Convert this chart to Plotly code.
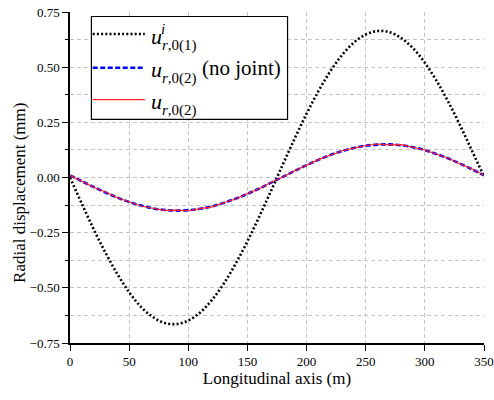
import plotly.graph_objects as go

# Longitudinal positions (m)
x_pos = [0, 10, 20, 30, 40, 50, 60, 70, 80, 90, 100, 110, 120, 130, 140, 150, 160, 170,
         180, 190, 200, 210, 220, 230, 240, 250, 260, 270, 280, 290, 300, 310, 320, 330, 340, 350]

# u^i_{r,0(1)} (mm)
u_r01_i = [0.0, -0.119, -0.234, -0.341, -0.437, -0.520, -0.586, -0.632, -0.659, -0.664,
           -0.648, -0.612, -0.555, -0.481, -0.391, -0.289, -0.177, -0.060, 0.060, 0.177,
           0.289, 0.391, 0.481, 0.555, 0.612, 0.648, 0.664, 0.659, 0.632, 0.586, 0.520,
           0.437, 0.341, 0.234, 0.119, 0.005]

# u_{r,0(2)} (no joint) (mm)
u_r02_nojoint = [0.010, -0.017, -0.043, -0.068, -0.091, -0.111, -0.127, -0.140, -0.147, -0.150,
                 -0.148, -0.142, -0.131, -0.115, -0.096, -0.074, -0.050, -0.023, 0.003, 0.030,
                 0.056, 0.080, 0.102, 0.120, 0.134, 0.144, 0.149, 0.150, 0.146, 0.137, 0.124,
                 0.106, 0.086, 0.062, 0.037, 0.010]

# u_{r,0(2)} (mm)
u_r02 = [0.010, -0.016, -0.044, -0.066, -0.092, -0.110, -0.129, -0.139, -0.149, -0.148,
         -0.151, -0.141, -0.133, -0.114, -0.097, -0.073, -0.051, -0.022, 0.002, 0.031,
         0.055, 0.081, 0.101, 0.121, 0.133, 0.145, 0.152, 0.148, 0.149, 0.136, 0.125,
         0.105, 0.087, 0.061, 0.038, 0.010]

y_ticks = [-0.75, -0.50, -0.25, 0.00, 0.25, 0.50, 0.75]
x_ticks = [0, 50, 100, 150, 200, 250, 300, 350]

FONT = "Liberation Serif"

fig = go.Figure()
fig.add_trace(go.Scatter(x=x_pos, y=u_r01_i, mode="lines", line_shape="spline",
                         line=dict(color="black", width=2.6, dash="2px,2.2px"),
                         showlegend=False))
fig.add_trace(go.Scatter(x=x_pos, y=u_r02_nojoint, mode="lines", line_shape="spline",
                         line=dict(color="#0000ff", width=2.6, dash="5px,2.5px"),
                         showlegend=False))
fig.add_trace(go.Scatter(x=x_pos, y=u_r02, mode="lines",
                         line=dict(color="#ff2020", width=1.1),
                         showlegend=False))

grid_color = "#c4c4c4"
fig.update_xaxes(range=[0, 350], tickvals=x_ticks, ticks="outside", ticklen=6, tickwidth=1,
                 tickcolor="black", showline=True, linecolor="black", linewidth=1.5,
                 showgrid=True, gridcolor=grid_color, griddash="4px,3px", gridwidth=1,
                 zeroline=False, automargin=False,
                 tickfont=dict(family=FONT, size=13, color="black"),
                 title=dict(text="Longitudinal axis (m)", font=dict(family=FONT, size=17, color="black"),
                            standoff=3))
fig.update_yaxes(range=[-0.75, 0.75], tickvals=y_ticks, tickformat=".2f", ticks="outside",
                 ticklen=6, tickwidth=1, tickcolor="black", showline=True, linecolor="black",
                 linewidth=1.5, showgrid=True, gridcolor=grid_color, griddash="4px,3px", gridwidth=1,
                 zeroline=False, automargin=False,
                 tickfont=dict(family=FONT, size=13, color="black"),
                 minor=dict(dtick=0.125, tick0=-0.75, ticks="outside", ticklen=3, tickcolor="black",
                            showgrid=True, gridcolor=grid_color, griddash="4px,3px", gridwidth=1))

# Legend drawn manually (box + line samples + labels)
L, R, T, B = 70.3, 484.0, 11.5, 343.0
def px(xp):
    return (xp - L) / (R - L)
def py(yp):
    return (B - yp) / (B - T)

shapes = [
    dict(type="rect", xref="paper", yref="paper", x0=px(91.7), x1=px(287.7), y0=py(119), y1=py(16),
         line=dict(color="black", width=1.2), fillcolor="white", layer="above"),
    dict(type="line", xref="paper", yref="paper", x0=px(93), x1=px(145), y0=py(33.5), y1=py(33.5),
         line=dict(color="black", width=2.6, dash="2px,2.2px"), layer="above"),
    dict(type="line", xref="paper", yref="paper", x0=px(93), x1=px(145), y0=py(67.3), y1=py(67.3),
         line=dict(color="#0000ff", width=2.6, dash="5px,2.5px"), layer="above"),
    dict(type="line", xref="paper", yref="paper", x0=px(93), x1=px(145), y0=py(99.3), y1=py(99.3),
         line=dict(color="#ff2020", width=1.1), layer="above"),
]

def ann(text, xp, yp, size, **kw):
    d = dict(text=text, xref="paper", yref="paper", x=px(xp), y=py(yp), showarrow=False,
             xanchor="left", yanchor="middle", font=dict(family=FONT, size=size, color="black"))
    d.update(kw)
    return d

annotations = [
    ann("<i>u</i>", 149, 36, 22),
    ann("<i>i</i>", 159, 29, 15),
    ann("<i>r</i>,0(1)", 160, 45, 15),
    ann("<i>u</i>", 149, 69, 22),
    ann("<i>r</i>,0(2)", 160, 78, 15),
    ann("(no joint)", 200, 68, 21),
    ann("<i>u</i>", 149, 101, 22),
    ann("<i>r</i>,0(2)", 160, 110, 15),
    dict(text="Radial displacement (mm)", xref="paper", yref="paper", x=px(20), y=py(193),
         showarrow=False, textangle=-90, xanchor="center", yanchor="middle",
         font=dict(family=FONT, size=17, color="black")),
]

fig.update_layout(width=494, height=400, margin=dict(l=70.3, r=10, t=11.5, b=57),
                  plot_bgcolor="white", paper_bgcolor="white", shapes=shapes,
                  annotations=annotations)

fig.write_html("out.html")
